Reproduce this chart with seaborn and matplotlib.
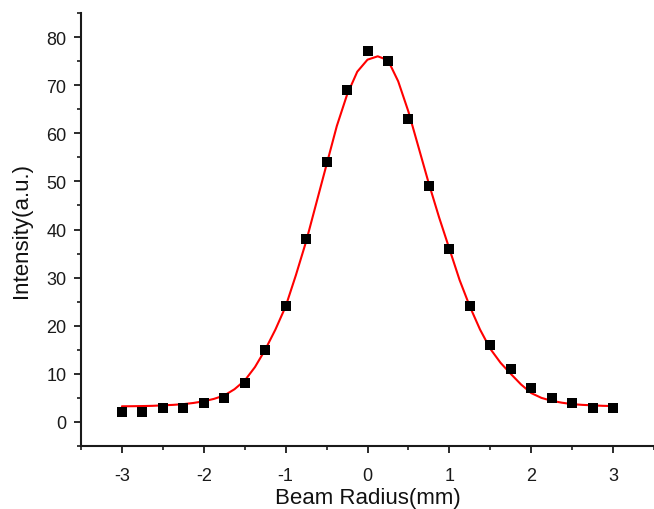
import matplotlib
matplotlib.use("Agg")
import matplotlib.pyplot as plt
from matplotlib.ticker import MultipleLocator
import seaborn as sns
import pandas as pd

# measured data points
beam_radius = [-3.0, -2.75, -2.5, -2.25, -2.0, -1.75, -1.5, -1.25, -1.0, -0.75, -0.5, -0.25,
               0.0, 0.25, 0.5, 0.75, 1.0, 1.25, 1.5, 1.75, 2.0, 2.25, 2.5, 2.75, 3.0]
intensity = [2, 2, 3, 3, 4, 5, 8, 15, 24, 38, 54, 69,
             77, 75, 63, 49, 36, 24, 16, 11, 7, 5, 4, 3, 3]

# fitted curve
fit_x = [-3.0, -2.875, -2.75, -2.625, -2.5, -2.375, -2.25, -2.125, -2.0, -1.875, -1.75, -1.625,
         -1.5, -1.375, -1.25, -1.125, -1.0, -0.875, -0.75, -0.625, -0.5, -0.375, -0.25, -0.125,
         0.0, 0.125, 0.25, 0.375, 0.5, 0.625, 0.75, 0.875, 1.0, 1.125, 1.25, 1.375,
         1.5, 1.625, 1.75, 1.875, 2.0, 2.125, 2.25, 2.375, 2.5, 2.625, 2.75, 2.875, 3.0]
fit_y = [3.25, 3.27, 3.3, 3.35, 3.45, 3.55, 3.7, 3.95, 4.3, 4.8, 5.5, 6.8,
         8.6, 11.4, 15.0, 19.2, 24.0, 30.5, 37.5, 45.5, 53.5, 61.5, 68.0, 72.8,
         75.3, 76.0, 75.2, 70.8, 64.5, 57.0, 49.5, 42.5, 36.0, 29.5, 24.0, 19.2,
         15.2, 12.3, 10.0, 7.8, 6.0, 5.0, 4.4, 4.0, 3.7, 3.55, 3.45, 3.35, 3.3]

x_ticks = [-3, -2, -1, 0, 1, 2, 3]
y_ticks = [0, 10, 20, 30, 40, 50, 60, 70, 80]

pts = pd.DataFrame({"x": beam_radius, "y": intensity})
fit = pd.DataFrame({"x": fit_x, "y": fit_y})

sns.set_style("ticks")
plt.rcParams["font.family"] = ["Liberation Sans", "DejaVu Sans"]

fig = plt.figure(figsize=(6.54, 5.10), dpi=100)
ax = fig.add_axes([81 / 654, 63 / 510, 573 / 654, 433 / 510])

sns.lineplot(data=fit, x="x", y="y", ax=ax, color="#ff0000", linewidth=1.5, zorder=2)
sns.scatterplot(data=pts, x="x", y="y", ax=ax, marker="s", s=52, color="black",
                edgecolor="black", linewidth=0, zorder=3)

ax.set_xlim(-3.5, 3.5)
ax.set_ylim(-5, 85)
ax.set_xticks(x_ticks)
ax.set_xticklabels([str(t) for t in x_ticks])
ax.set_yticks(y_ticks)
ax.set_yticklabels([str(t) for t in y_ticks])
ax.xaxis.set_minor_locator(MultipleLocator(0.5))
ax.yaxis.set_minor_locator(MultipleLocator(5))

ax.tick_params(axis="both", which="major", direction="out", length=5, width=1.3,
               labelsize=13, colors="#1a1a1a", pad=5.5)
ax.tick_params(axis="x", which="major", pad=10)
ax.tick_params(axis="both", which="minor", direction="out", length=2.8, width=1.2,
               colors="#1a1a1a")

for side in ["left", "bottom"]:
    ax.spines[side].set_linewidth(1.5)
    ax.spines[side].set_color("#1a1a1a")
sns.despine(ax=ax)

ax.set_xlabel("Beam Radius(mm)", fontsize=16, labelpad=2.5, color="#111111")
ax.set_ylabel("Intensity(a.u.)", fontsize=16, labelpad=10, color="#111111")

fig.savefig("out.png", dpi=100, facecolor="white")
